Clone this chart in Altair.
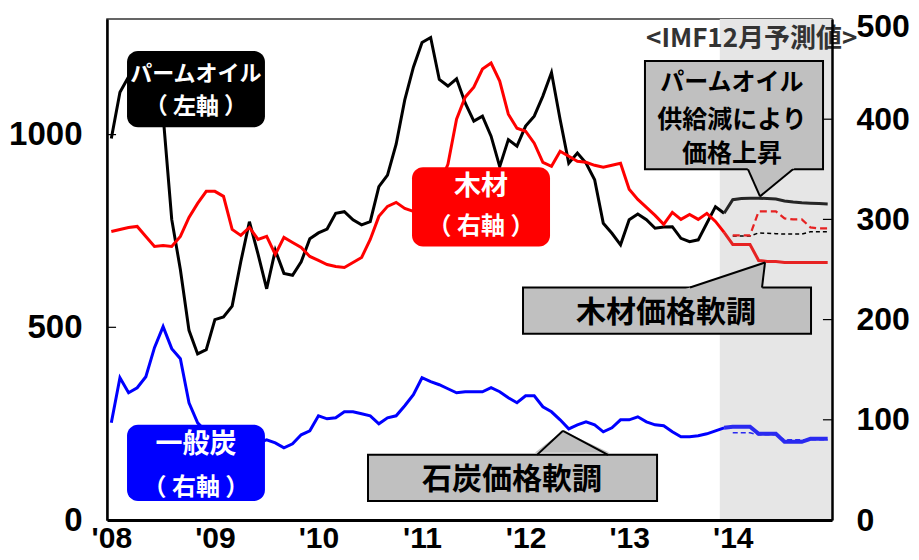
import json
import altair as alt
import pandas as pd

# ---------------- data (monthly, Jan 2008 = 0 ... Dec 2014 = 83) ----------------
months = list(range(84))
palm = [990, 1110, 1150, 1200, 1180, 1150, 1050, 780, 650, 492,
        431, 442, 520, 527, 555, 670, 774, 690, 600, 700,
        640, 635, 670, 730, 745, 755, 796, 800, 779, 766,
        774, 865, 895, 975, 1090, 1175, 1239, 1252, 1143, 1126,
        1145, 1082, 1035, 1048, 996, 917, 987, 970, 1022, 1048,
        1100, 1161, 1039, 926, 952, 926, 883, 770, 744, 714,
        779, 794, 779, 757, 760, 761, 731, 722, 727, 770,
        813, 796, 831, 834, 835, 835, 834, 833, 828, 825,
        823, 822, 821, 820]
timber = [288, 290, 292, 293, 283, 273, 274, 273, 283, 302,
          316, 328, 328, 323, 290, 284, 292, 280, 283, 265,
          282, 277, 272, 263, 259, 255, 253, 252, 257, 262,
          280, 303, 313, 317, 311, 308, 306, 315, 335, 355,
          400, 422, 432, 450, 456, 438, 405, 391, 388, 376,
          357, 353, 368, 363, 358, 357, 354, 352, 354, 356,
          330, 320, 312, 304, 295, 307, 300, 305, 300, 306,
          298, 287, 275, 275, 275, 259, 258, 258, 257, 257,
          257, 257, 257, 257]
coal = [97, 142, 127, 132, 143, 172, 193, 171, 161, 117,
        97, 88, 80, 76, 72, 70, 72, 77, 80, 77,
        72, 76, 85, 89, 104, 101, 102, 108, 108, 106,
        104, 96, 102, 104, 114, 125, 142, 138, 135, 131,
        127, 128, 128, 128, 132, 128, 122, 117, 124, 124,
        113, 108, 100, 91, 95, 98, 95, 88, 92, 100,
        100, 103, 98, 95, 94, 88, 83, 83, 84, 86,
        89, 92, 93, 93, 93, 86, 86, 86, 78, 78,
        78, 81, 81, 81]
last_actual = 71
fc_months = list(range(72, 84))
palm_prev = [737, 737, 737, 745, 744, 743, 742, 742, 742, 748, 748, 748]
timber_prev = [284, 284, 284, 308, 308, 308, 301, 300, 300, 292, 291, 291]
coal_prev = [87, 87, 87, 85, 85, 85, 80, 80, 80, 80, 80, 80]
x_labels = ["'08", "'09", "'10", "'11", "'12", "'13", "'14"]
left_ticks = [0, 500, 1000]
right_ticks = [0, 100, 200, 300, 400, 500]

# ---------------- helpers ----------------
NUM_FONT = "Liberation Sans"
JP_FONT = "Noto Sans CJK JP"

x_scale = alt.Scale(domain=[-0.5, 83.5], nice=False, zero=False)
yl_scale = alt.Scale(domain=[0, 1300], nice=False, zero=True)
yr_scale = alt.Scale(domain=[0, 500], nice=False, zero=True)

x_axis = alt.Axis(values=[12 * k for k in range(len(x_labels))],
                  labelExpr=json.dumps(x_labels) + "[round(datum.value/12)]",
                  title=None, ticks=False, grid=False, labelFont=NUM_FONT,
                  labelFontSize=30, labelFontWeight="bold", labelColor="#000",
                  labelPadding=3, domainColor="#000", domainWidth=3,
                  labelFlush=False, labelOverlap=False, zindex=1)
yl_axis = alt.Axis(values=left_ticks, format="d", title=None, ticks=False, grid=False,
                   orient="left", labelFont=NUM_FONT, labelFontSize=33,
                   labelFontWeight="bold", labelColor="#000", labelPadding=25,
                   domainColor="#000", domainWidth=2.5, labelFlush=False,
                   labelOverlap=False, zindex=1)
yr_axis = alt.Axis(values=right_ticks, format="d", title=None, ticks=False, grid=False,
                   orient="right", labelFont=NUM_FONT, labelFontSize=32,
                   labelFontWeight="bold", labelColor="#000", labelPadding=24,
                   labelOffset={"condition": {"test": "datum.value == 500", "value": 7},
                                "value": 0},
                   domainColor="#000", domainWidth=2.5, labelFlush=False,
                   labelOverlap=False, zindex=1)


def X(f):
    return alt.X(f"{f}:Q", scale=x_scale, axis=x_axis, stack=None)


def YL(f):
    return alt.Y(f"{f}:Q", scale=yl_scale, axis=yl_axis, stack=None)


def YR(f):
    return alt.Y(f"{f}:Q", scale=yr_scale, axis=yr_axis, stack=None)


def series(ms, vs):
    return pd.DataFrame({"m": ms, "v": vs})


# ---------------- left-axis group ----------------
shade = alt.Chart(pd.DataFrame({"x0": [70.5], "x1": [83.5], "y0": [0], "y1": [1300]})).mark_rect(
    color="#e6e6e6").encode(x=X("x0"), x2="x1", y=YL("y0"), y2="y1")

lt = pd.DataFrame({"x0": [-0.5] * 2, "x1": [0.55] * 2, "y": [500, 1000]})
left_tick_marks = alt.Chart(lt).mark_rule(color="#000", strokeWidth=1.2).encode(
    x=X("x0"), x2="x1", y=YL("y"))

palm_act = alt.Chart(series(months[:last_actual + 1], palm[:last_actual + 1])).mark_line(
    color="#000000", strokeWidth=3).encode(x=X("m"), y=YL("v"))
palm_fc = alt.Chart(series(months[last_actual:], palm[last_actual:])).mark_line(
    color="#262626", strokeWidth=3).encode(x=X("m"), y=YL("v"))
palm_dash = alt.Chart(series(fc_months, palm_prev)).mark_line(
    color="#000000", strokeWidth=1.5, strokeDash=[4, 3]).encode(x=X("m"), y=YL("v"))

left_group = alt.layer(shade, left_tick_marks, palm_act, palm_fc, palm_dash)

# ---------------- right-axis group ----------------
rt = pd.DataFrame({"x0": [82.45] * 4, "x1": [83.5] * 4, "y": [100, 200, 300, 400]})
right_tick_marks = alt.Chart(rt).mark_rule(color="#000", strokeWidth=1.2).encode(
    x=X("x0"), x2="x1", y=YR("y"))

timber_act = alt.Chart(series(months[:last_actual + 1], timber[:last_actual + 1])).mark_line(
    color="#ff0000", strokeWidth=3).encode(x=X("m"), y=YR("v"))
timber_fc = alt.Chart(series(months[last_actual:], timber[last_actual:])).mark_line(
    color="#e62222", strokeWidth=3).encode(x=X("m"), y=YR("v"))
timber_dash = alt.Chart(series(fc_months, timber_prev)).mark_line(
    color="#e62222", strokeWidth=2.2, strokeDash=[7, 4]).encode(x=X("m"), y=YR("v"))

coal_act = alt.Chart(series(months[:last_actual + 1], coal[:last_actual + 1])).mark_line(
    color="#0000ff", strokeWidth=3).encode(x=X("m"), y=YR("v"))
coal_fc = alt.Chart(series(months[last_actual:], coal[last_actual:])).mark_line(
    color="#2a2af0", strokeWidth=4).encode(x=X("m"), y=YR("v"))
coal_dash = alt.Chart(series(fc_months, coal_prev)).mark_line(
    color="#2a2af0", strokeWidth=1.5, strokeDash=[5, 3]).encode(x=X("m"), y=YR("v"))

# series label boxes (rounded, coloured)
label_boxes = pd.DataFrame({
    "x0": [1.82, 34.84, 1.82], "x1": [17.8, 50.83, 17.8],
    "y0": [392, 273, 19], "y1": [468, 352, 95],
    "c": ["#000000", "#ff0000", "#0000ff"]})
label_rects = alt.Chart(label_boxes).mark_rect(cornerRadius=11).encode(
    x=X("x0"), x2="x1", y=YR("y0"), y2="y1", color=alt.Color("c:N", scale=None))

# callout boxes (gray)
callouts = pd.DataFrame({
    "x0": [61.83, 47.7, 29.74], "x1": [82.46, 81.07, 63.23],
    "y0": [350, 186, 19], "y1": [458, 232, 65]})
callout_rects = alt.Chart(callouts).mark_rect(
    fill="#c0c0c0", stroke="#000", strokeWidth=2).encode(
    x=X("x0"), x2="x1", y=YR("y0"), y2="y1")

# pointers: base (inside box) -> apex
pointers = pd.DataFrame({
    "p": ["palm", "palm", "timber", "timber", "coal", "coal"],
    "v": [352, 323, 230, 257, 67, 89],
    "xl": [73.67, 75.16, 66.35, 75.74, 49.07, 52.33],
    "xr": [79.26, 75.16, 75.41, 75.74, 57.73, 52.33]})
pointer_fill = alt.Chart(pointers).mark_area(
    orient="horizontal", color="#c0c0c0", opacity=1).encode(
    y=YR("v"), x=X("xl"), x2="xr", detail="p:N")

edges = pd.DataFrame({
    "x0": [73.77, 78.98, 67.05, 75.39, 49.32, 57.55],
    "y0": [350, 350, 232, 232, 65, 65],
    "x1": [75.16, 75.16, 75.74, 75.74, 52.33, 52.33],
    "y1": [323, 323, 257, 257, 89, 89]})
pointer_edges = alt.Chart(edges).mark_rule(color="#000", strokeWidth=2).encode(
    x=X("x0"), y=YR("y0"), x2="x1", y2="y1")

texts = pd.DataFrame({
    "x": [9.8, 9.8, 42.83, 42.83, 9.8, 9.8, 71.9, 71.9, 71.9, 64.27, 46.42, 74.2],
    "y": [445, 412, 332, 292, 75, 32, 436, 399, 365, 207, 40, 480],
    "t": ["パームオイル", "（ 左軸 ）", "木材", "（ 右軸 ）", "一般炭", "（ 右軸 ）",
          "パームオイル", "供給減により", "価格上昇", "木材価格軟調", "石炭価格軟調",
          "<IMF12月予測値>"],
    "s": [22, 23, 27, 24, 27, 24, 24, 25, 25, 30, 30, 26],
    "c": ["#ffffff"] * 6 + ["#000000"] * 5 + ["#333333"]})
text_marks = alt.Chart(texts).mark_text(
    font=JP_FONT, fontWeight="bold", align="center", baseline="middle").encode(
    x=X("x"), y=YR("y"), text="t:N",
    size=alt.Size("s:Q", scale=None), color=alt.Color("c:N", scale=None))

right_group = alt.layer(right_tick_marks, timber_act, timber_fc, timber_dash,
                        coal_act, coal_fc, coal_dash, label_rects, callout_rects,
                        pointer_fill, pointer_edges, text_marks)

chart = alt.layer(left_group, right_group).resolve_scale(y="independent").properties(
    width=725, height=501,
    padding={"left": 99, "top": 11, "right": 79, "bottom": 40},
    autosize=alt.AutoSizeParams(type="none"),
    background="#ffffff",
).configure_view(stroke="#333333", strokeWidth=1.5)

chart.save("out.html", embed_options={"renderer": "svg", "actions": False})
